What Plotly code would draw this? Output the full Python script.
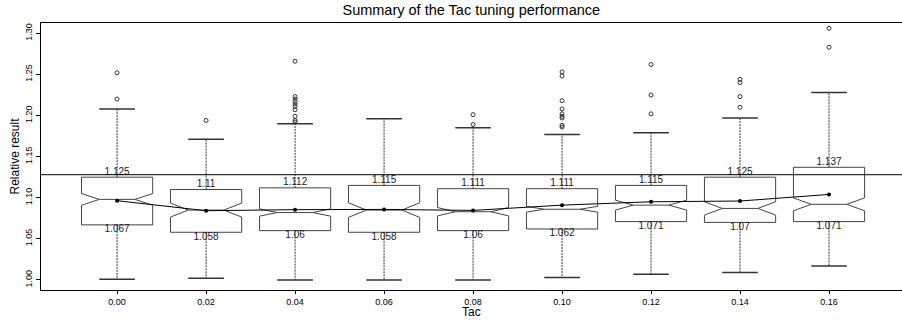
import plotly.graph_objects as go

# ---------------- data ----------------
tac = [0.00, 0.02, 0.04, 0.06, 0.08, 0.10, 0.12, 0.14, 0.16]
tac_labels = ["0.00", "0.02", "0.04", "0.06", "0.08", "0.10", "0.12", "0.14", "0.16"]

q1 = [1.067, 1.058, 1.060, 1.058, 1.060, 1.062, 1.071, 1.070, 1.071]
q3 = [1.125, 1.110, 1.112, 1.115, 1.111, 1.111, 1.115, 1.125, 1.137]
q1_labels = ["1.067", "1.058", "1.06", "1.058", "1.06", "1.062", "1.071", "1.07", "1.071"]
q3_labels = ["1.125", "1.11", "1.112", "1.115", "1.111", "1.111", "1.115", "1.125", "1.137"]
medians = [1.098, 1.085, 1.082, 1.085, 1.083, 1.086, 1.091, 1.087, 1.092]
notch_spans = [0.0071, 0.0085, 0.0044, 0.0089, 0.0051, 0.0035, 0.0060, 0.0081, 0.0079]
means = [1.0964, 1.0842, 1.0855, 1.0858, 1.0846, 1.0910, 1.0951, 1.0960, 1.1040]
lower_whisker = [1.001, 1.002, 1.000, 1.000, 1.000, 1.003, 1.007, 1.009, 1.017]
upper_whisker = [1.208, 1.171, 1.190, 1.196, 1.185, 1.177, 1.179, 1.197, 1.228]
outliers = [
    [1.252, 1.220],
    [1.194],
    [1.266, 1.223, 1.220, 1.217, 1.214, 1.211, 1.207, 1.199, 1.194, 1.192],
    [],
    [1.201, 1.189],
    [1.253, 1.248, 1.218, 1.208, 1.202, 1.199, 1.197, 1.188, 1.186],
    [1.262, 1.225, 1.202],
    [1.244, 1.240, 1.223, 1.210],
    [1.306, 1.283],
]
reference_value = 1.128
y_ticks = [1.00, 1.05, 1.10, 1.15, 1.20, 1.25, 1.30]
y_tick_labels = ["1.00", "1.05", "1.10", "1.15", "1.20", "1.25", "1.30"]

# ---------------- styling ----------------
FONT = "Liberation Sans, Arial, Helvetica, sans-serif"
BOX_W = 0.016
CAP_HALF = 0.004
BOX_COLOR = "#444444"
PLOT_H = 320 - 23 - 30

fig = go.Figure()

# whiskers (dashed) built from the data arrays
wx, wy = [], []
for t, a, b, lo, hi in zip(tac, q1, q3, lower_whisker, upper_whisker):
    wx += [t, t, None, t, t, None]
    wy += [b, hi, None, a, lo, None]
fig.add_trace(go.Scatter(x=wx, y=wy, mode="lines",
                         line=dict(color="#333333", width=1, dash="2px,1px"),
                         hoverinfo="skip", showlegend=False))

# whisker caps
cx, cy = [], []
for t, lo, hi in zip(tac, lower_whisker, upper_whisker):
    cx += [t - CAP_HALF, t + CAP_HALF, None, t - CAP_HALF, t + CAP_HALF, None]
    cy += [lo, lo, None, hi, hi, None]
fig.add_trace(go.Scatter(x=cx, y=cy, mode="lines",
                         line=dict(color="#333333", width=1.5),
                         hoverinfo="skip", showlegend=False))

# notched boxes
fig.add_trace(go.Box(
    x=tac, q1=q1, median=medians, q3=q3,
    lowerfence=q1, upperfence=q3,
    notched=True, notchspan=notch_spans, notchwidth=0.25,
    width=BOX_W, whiskerwidth=0,
    fillcolor="white", line=dict(color=BOX_COLOR, width=1),
    boxpoints=False, hoverinfo="skip", showlegend=False,
))

# outliers
ox, oy = [], []
for t, vals in zip(tac, outliers):
    for v in vals:
        ox.append(t)
        oy.append(v)
fig.add_trace(go.Scatter(x=ox, y=oy, mode="markers",
                         marker=dict(symbol="circle-open", size=4, color="#333333",
                                     line=dict(width=1, color="#333333")),
                         hoverinfo="skip", showlegend=False))

# mean line
fig.add_trace(go.Scatter(x=tac, y=means, mode="lines+markers",
                         line=dict(color="black", width=1),
                         marker=dict(size=4, color="black"),
                         hoverinfo="skip", showlegend=False))

# quartile labels
fig.add_trace(go.Scatter(x=tac, y=q3, mode="text", text=q3_labels,
                         textposition="top center",
                         textfont=dict(family=FONT, size=10, color="#222222"),
                         hoverinfo="skip", showlegend=False))
fig.add_trace(go.Scatter(x=tac, y=q1, mode="text", text=q1_labels,
                         textposition="bottom center",
                         textfont=dict(family=FONT, size=10, color="#222222"),
                         hoverinfo="skip", showlegend=False))

# reference line
fig.add_hline(y=reference_value, line=dict(color="black", width=1))

# x axis title placed below tick labels
fig.add_annotation(text="Tac", xref="paper", yref="paper",
                   x=(471.5 - 41) / (902 - 41), y=-(21.5 / PLOT_H),
                   xanchor="center", yanchor="middle", showarrow=False,
                   font=dict(family=FONT, size=12, color="black"))

fig.update_layout(
    width=902, height=320,
    margin=dict(l=41, r=0, t=23, b=30),
    paper_bgcolor="white", plot_bgcolor="white",
    font=dict(family=FONT, color="black"),
    title=dict(text="Summary of the Tac tuning performance",
               x=0.5225, xanchor="center", y=1 - 10 / 320, yanchor="middle",
               yref="container", font=dict(size=14.5, color="black")),
    xaxis=dict(range=[-0.0171, 0.1764], tickvals=tac, ticktext=tac_labels,
               ticks="outside", ticklen=3, tickcolor="black",
               showline=True, linecolor="black", linewidth=1, mirror=True,
               showgrid=False, zeroline=False,
               tickfont=dict(size=9, color="black")),
    yaxis=dict(range=[0.9878, 1.3125], tickvals=y_ticks, ticktext=y_tick_labels,
               tickangle=-90, ticks="outside", ticklen=4, tickcolor="black",
               showline=True, linecolor="black", linewidth=1,
               showgrid=False, zeroline=False,
               tickfont=dict(size=9, color="black"),
               title=dict(text="Relative result", font=dict(size=12), standoff=2)),
)

fig.write_html("out.html")
